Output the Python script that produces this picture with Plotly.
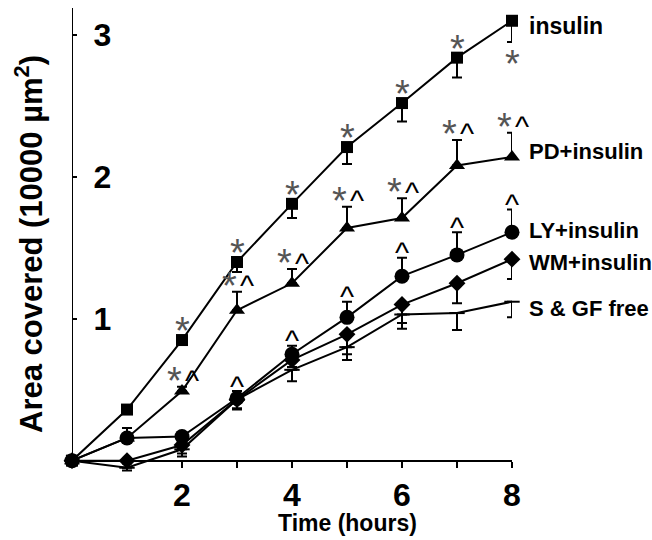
import plotly.graph_objects as go

# ---------------- data ----------------
hours = [0, 1, 2, 3, 4, 5, 6, 7, 8]

insulin = [0, 0.36, 0.85, 1.40, 1.81, 2.21, 2.52, 2.84, 3.10]
insulin_err = [0, 0.02, 0.03, 0.07, 0.10, 0.12, 0.13, 0.14, 0.15]   # lower bars

pd_ins = [0, 0.16, 0.49, 1.06, 1.25, 1.64, 1.71, 2.08, 2.14]
pd_err = [0, 0.07, 0.03, 0.13, 0.10, 0.15, 0.14, 0.18, 0.17]        # upper bars

ly_ins = [0, 0.16, 0.17, 0.44, 0.75, 1.01, 1.30, 1.45, 1.61]
ly_err = [0, 0.03, 0.03, 0.05, 0.06, 0.11, 0.13, 0.16, 0.16]        # upper bars

wm_ins = [0, 0.00, 0.11, 0.43, 0.71, 0.89, 1.10, 1.25, 1.42]
wm_err = [0, 0.02, 0.08, 0.06, 0.05, 0.14, 0.13, 0.14, 0.14]        # lower bars

sgf = [0, -0.05, 0.08, 0.43, 0.64, 0.80, 1.03, 1.04, 1.12]
sgf_err = [0, 0.02, 0.03, 0.07, 0.08, 0.09, 0.10, 0.12, 0.11]       # lower bars

series_names = ["insulin", "PD+insulin", "LY+insulin", "WM+insulin", "S & GF free"]

insulin_star_hours = [2, 3, 4, 5, 6, 7]   # '*' above
insulin_star_below = [8]                  # '*' below
pd_mark_hours = [2, 3, 4, 5, 6, 7, 8]     # '*' and '^'
ly_mark_hours = [3, 4, 5, 6, 7, 8]        # '^'

x_tickvals = [2, 4, 6, 8]
x_ticktext = ["2", "4", "6", "8"]
y_tickvals = [1, 2, 3]
y_ticktext = ["1", "2", "3"]

# ---------------- figure ----------------
FONT = "Liberation Sans, Arial, sans-serif"
BLACK = "#000000"
STAR = "#555555"
YMIN, YMAX = -0.08, 3.19
STAR_SIZE = 38
CARET_SIZE = 30

fig = go.Figure()

def add_series(y, err, up, symbol, size, name):
    e = dict(type="data", symmetric=False, color=BLACK, thickness=2, width=5)
    if up:
        e["array"] = err
        e["arrayminus"] = [0] * len(err)
    else:
        e["array"] = [0] * len(err)
        e["arrayminus"] = err
    marker = dict(symbol=symbol, size=size, color=BLACK,
                  line=dict(color=BLACK, width=2 if symbol == "line-ew" else 0))
    fig.add_trace(go.Scatter(x=hours, y=y, mode="lines+markers", name=name,
                             line=dict(color=BLACK, width=2),
                             marker=marker, error_y=e, cliponaxis=False,
                             showlegend=False))

add_series(sgf, sgf_err, False, "line-ew", 11, series_names[4])
add_series(wm_ins, wm_err, False, "diamond", 13, series_names[3])
add_series(ly_ins, ly_err, True, "circle", 15, series_names[2])
add_series(pd_ins, pd_err, True, "triangle-up", 14, series_names[1])
add_series(insulin, insulin_err, False, "square", 12, series_names[0])

annotations = []

def mark(x, y, text, xshift, yshift, size, color):
    annotations.append(dict(x=x, y=y, xref="x", yref="y", text=text,
                            showarrow=False, xshift=xshift, yshift=yshift,
                            xanchor="center", yanchor="middle",
                            font=dict(family=FONT, size=size, color=color)))

# significance marks
for t in insulin_star_hours:
    mark(t, insulin[t], "*", 0, 9, STAR_SIZE, STAR)
for t in insulin_star_below:
    mark(t, insulin[t] - insulin_err[t], "*", 0, -22, STAR_SIZE, STAR)
for t in pd_mark_hours:
    mark(t, pd_ins[t] + pd_err[t], "*", -8, 6, STAR_SIZE, STAR)
    mark(t, pd_ins[t] + pd_err[t], "^", 10, 6, CARET_SIZE, BLACK)
for t in ly_mark_hours:
    mark(t, ly_ins[t] + ly_err[t], "^", 0, 5, CARET_SIZE, BLACK)

# series labels at the line ends
label_vals = [insulin[-1], pd_ins[-1], ly_ins[-1], wm_ins[-1], sgf[-1]]
label_shift = [-5, 5, 2, -3, -7]
label_sizes = [23, 22, 22, 22, 22]
for name, v, s, fs in zip(series_names, label_vals, label_shift, label_sizes):
    annotations.append(dict(x=8, y=v, xref="x", yref="y", text="<b>%s</b>" % name,
                            showarrow=False, xanchor="left", yanchor="middle",
                            xshift=15, yshift=s,
                            font=dict(family=FONT, size=fs, color=BLACK)))

# axis titles
annotations.append(dict(x=5, y=0, xref="x", yref="y", text="<b>Time (hours)</b>",
                        showarrow=False, xanchor="center", yanchor="middle", yshift=-62,
                        font=dict(family=FONT, size=23, color=BLACK)))
annotations.append(dict(x=-43 / 440, y=(472 - 244) / 464, xref="paper", yref="paper",
                        text="<b>Area covered (10000 µm<sup>2</sup>)</b>", textangle=-90,
                        showarrow=False, xanchor="center", yanchor="middle",
                        font=dict(family=FONT, size=31, color=BLACK)))

fig.update_layout(
    width=652, height=540,
    margin=dict(l=72, r=140, t=8, b=68),
    paper_bgcolor="white", plot_bgcolor="white",
    font=dict(family=FONT, color=BLACK),
    annotations=annotations,
    shapes=[dict(type="line", xref="x", yref="y", x0=0, x1=0, y0=0, y1=YMAX,
                 line=dict(color=BLACK, width=2), layer="above")],
    xaxis=dict(range=[0, 8], showgrid=False, zeroline=False,
               showline=True, linecolor=BLACK, linewidth=2,
               anchor="free", position=(0 - YMIN) / (YMAX - YMIN),
               ticks="outside", ticklen=6, tickwidth=2, tickcolor=BLACK,
               tickvals=x_tickvals, ticktext=x_ticktext,
               minor=dict(dtick=1, tick0=0, ticks="outside", ticklen=6,
                          tickwidth=2, tickcolor=BLACK, showgrid=False),
               tickfont=dict(family=FONT, size=32, color=BLACK, weight="bold")),
    yaxis=dict(range=[YMIN, YMAX], showgrid=False, zeroline=False,
               showline=False,
               ticks="inside", ticklen=5, tickwidth=2, tickcolor=BLACK,
               tickvals=y_tickvals, ticktext=y_ticktext,
               ticklabelposition="inside", ticklabelstandoff=20,
               tickfont=dict(family=FONT, size=32, color=BLACK, weight="bold")),
)

fig.write_html("out.html")
